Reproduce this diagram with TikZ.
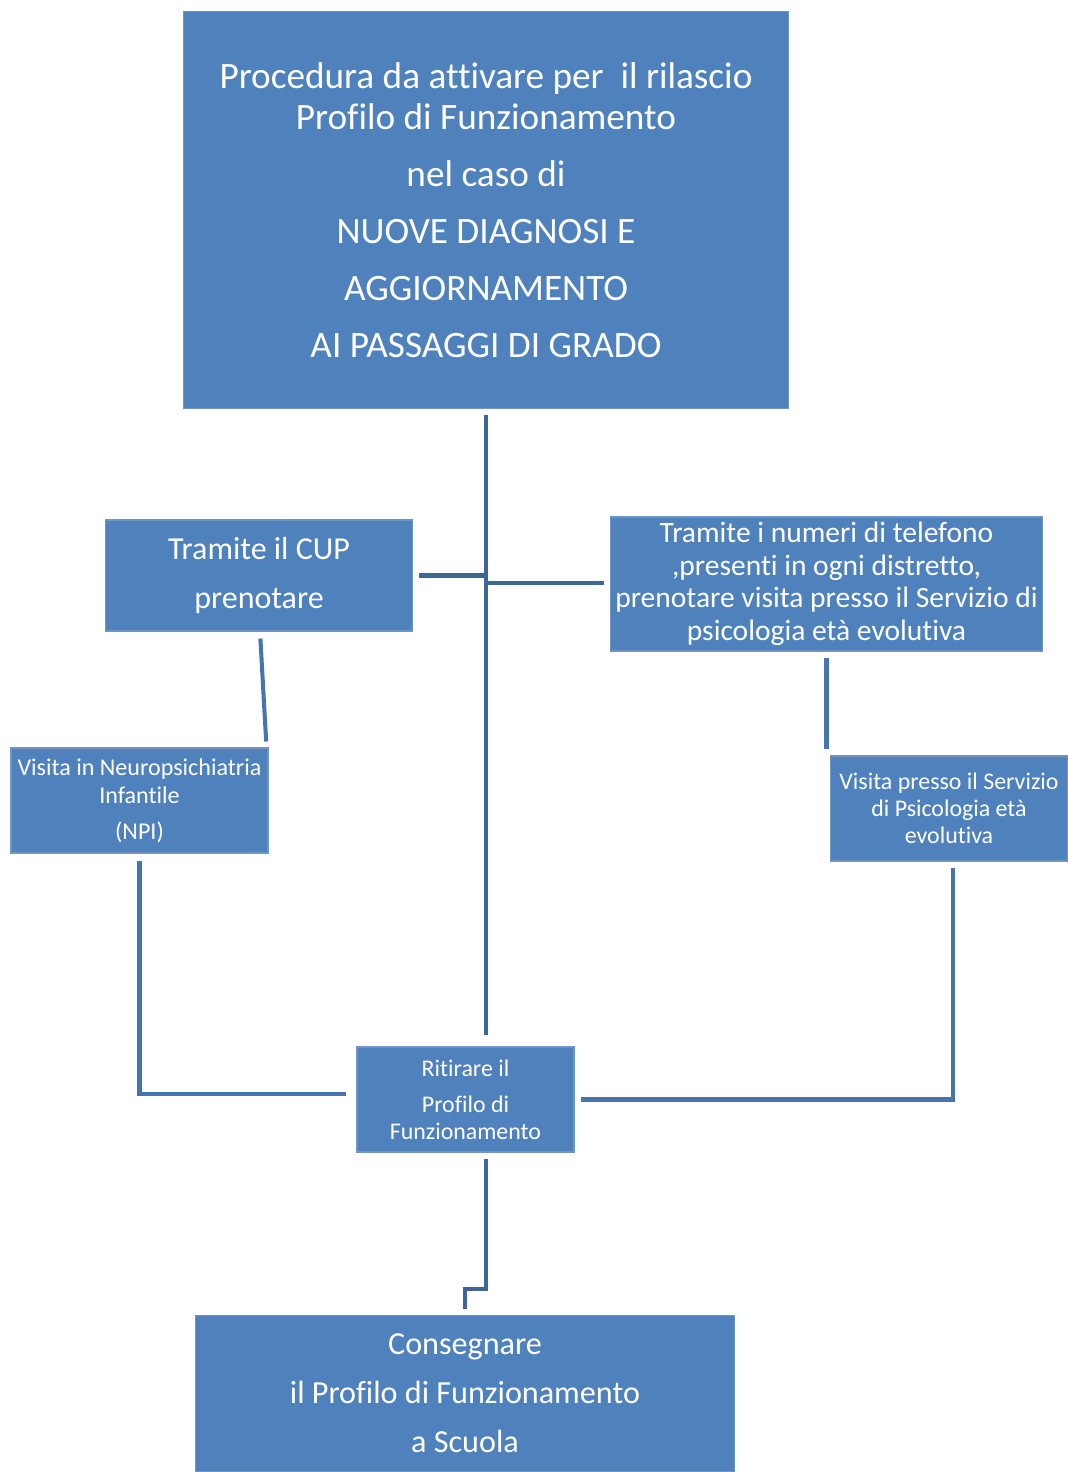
\documentclass[tikz,border=0pt]{standalone}
\usepackage{fontspec}
\setmainfont{Carlito}[Ligatures=NoCommon]
\definecolor{boxblue}{HTML}{4F81BD}
\definecolor{boxedge}{HTML}{6F95C6}
\definecolor{linkblue}{HTML}{4674AD}
\definecolor{mainlink}{HTML}{3D6699}

\tikzstyle{block} = [draw=boxedge,fill=boxblue,text=white,align=center,
                     inner sep=0pt,line width=0.6pt]
\tikzstyle{link}  = [draw=linkblue,line width=2.3pt]

\begin{document}
\begin{tikzpicture}[x=0.02cm,y=-0.02cm]
  \useasboundingbox (0,0) rectangle (1068,1472);
  \node[block,minimum width=12.12cm,minimum height=7.96cm,
        font=\fontsize{21.2}{23.3}\selectfont] at (486,210) (proc)
    {Procedura da attivare per\ \ il rilascio\\Profilo di Funzionamento\\[9.1pt]
     nel caso di\\[9.1pt]NUOVE DIAGNOSI E\\[9.1pt]AGGIORNAMENTO\\[9.1pt]AI PASSAGGI DI GRADO};
  \node[block,minimum width=6.16cm,minimum height=2.22cm,
        font=\fontsize{18.2}{27.9}\selectfont] at (259,575.5) (cup)
    {Tramite il CUP\\prenotare};
  \node[block,minimum width=8.66cm,minimum height=2.68cm,
        font=\fontsize{16.8}{18.5}\selectfont] at (826.5,584) (tel)
    {Tramite i numeri di telefono\\,presenti in ogni distretto,\\
     prenotare visita presso il Servizio di\\psicologia età evolutiva};
  \node[block,minimum width=5.14cm,minimum height=2.1cm,
        font=\fontsize{13.7}{15.9}\selectfont] at (139.5,800.5) (npi)
    {Visita in Neuropsichiatria\\Infantile\\[4.6pt](NPI)};
  \node[block,minimum width=4.76cm,minimum height=2.1cm,
        font=\fontsize{13.6}{15.4}\selectfont] at (949,808.5) (psic)
    {Visita presso il Servizio\\di Psicologia età\\evolutiva};
  \node[block,minimum width=4.34cm,minimum height=2.1cm,
        font=\fontsize{13.6}{15.4}\selectfont] at (465.5,1099.5) (rit)
    {Ritirare il\\[5.1pt]Profilo di\\Funzionamento};
  \node[block,minimum width=10.8cm,minimum height=3.14cm,
        font=\fontsize{18.3}{27.9}\selectfont] at (465,1393.5) (cons)
    {Consegnare\\il Profilo di Funzionamento\\a Scuola};

  \draw[link,draw=mainlink,line width=2.8pt,shorten <=0.12cm,shorten >=0.24cm]
    (proc.south) -- (proc.south |- rit.north);
  \draw[link,draw=mainlink,shorten <=0.12cm] (cup.east) -- (cup.east -| proc.south);
  \draw[link,draw=mainlink,shorten <=0.12cm]
    ([yshift=0.02cm]tel.west) -- ([yshift=0.02cm]tel.west -| proc.south);
  \draw[link,shorten <=0.14cm,shorten >=0.12cm]
    ([xshift=0.02cm]cup.south) -- ([xshift=-0.04cm]npi.north east);
  \draw[link,shorten <=0.12cm,shorten >=0.12cm] (tel.south) -- (tel.south |- psic.north);
  \draw[link,shorten <=0.14cm,shorten >=0.2cm]
    (npi.south) |- ([yshift=0.11cm]rit.west);
  \draw[link,shorten <=0.12cm,shorten >=0.12cm]
    ([xshift=0.08cm]psic.south) |- (rit.east);
  \draw[link,draw=mainlink,shorten <=0.12cm]
    ([xshift=0.41cm]rit.south) -- ++(0,136) -| ([yshift=0.12cm]cons.north);
\end{tikzpicture}
\end{document}
